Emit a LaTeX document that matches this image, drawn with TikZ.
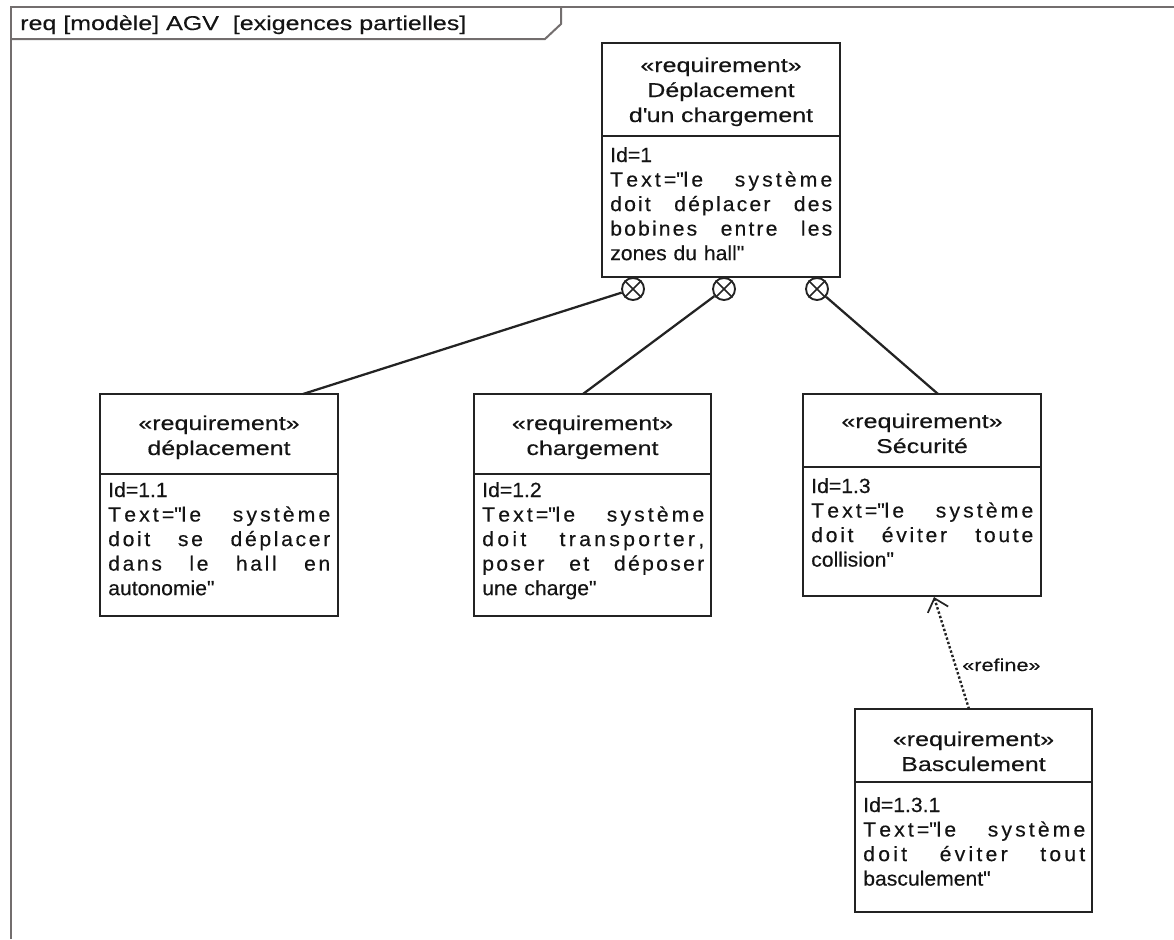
\documentclass[tikz,border=0pt]{standalone}
\usepackage{fontspec}
\setmainfont[FakeStretch=1.25,FakeBold=0.3]{Liberation Sans}
\newfontfamily\bodyfont[FakeStretch=1.03,FakeBold=0.3]{Liberation Sans}
\usetikzlibrary{fit,arrows.meta}
\definecolor{linec}{RGB}{35,35,35}
\definecolor{txtc}{RGB}{20,20,20}
\definecolor{framec}{RGB}{115,110,110}
\XeTeXinterchartoks 0 0 = {\hskip 0pt plus 0.12pt}
\newcommand\jline[1]{\leavevmode\hbox to 166.5pt{\XeTeXinterchartokenstate=1 #1}}
\newcommand\qq{\textquotedbl}
\newcommand\hs{\hskip 4.2pt plus 1pt}
\tikzset{
  reqbox/.style={draw=linec, line width=1.6pt, inner sep=0pt},
  divline/.style={draw=linec, line width=1.6pt},
  hdr/.style={anchor=base, text width=166.5pt, align=center, inner sep=0pt,
    font=\fontsize{15}{18.75}\selectfont, text=txtc},
  body/.style={anchor=base west, text width=166.5pt, align=left, inner sep=0pt,
    font=\bodyfont\fontsize{15.4}{18.4}\selectfont, text=txtc},
  conn/.style={draw=linec, line width=1.7pt},
  crossc/.style={circle, draw=linec, line width=1.4pt, minimum size=16.5pt, inner sep=0pt},
  crossl/.style={draw=linec, line width=1.1pt},
  refinearr/.style={draw=linec, line width=1.8pt, dash pattern=on 1.8pt off 1.6pt,
    -{Straight Barb[length=9pt,width=16pt,line width=1.3pt]}},
  framel/.style={draw=framec, line width=1.5pt},
}
\begin{document}
\begin{tikzpicture}[x=0.75pt, y=-0.75pt]
\useasboundingbox (0,0) rectangle (1174,939);
% frame
\draw[framel] (11,939) -- (11,7) -- (1174,7);
\draw[framel] (11,39) -- (545,39) -- (561,24) -- (561,7);
\node[anchor=base west, inner sep=0pt, font=\fontsize{15}{18}\selectfont, text=txtc] (title) at (20,30)
  {req [modèle] AGV\ \ [exigences partielles]};

% top requirement
\node[reqbox, fit={(602,43) (840,277)}] (top) {};
\draw[divline] (602,136) -- (840,136);
\node[hdr] (toph) at (721,72) {«requirement»\\Déplacement\\d\textquotesingle un chargement};
\node[body] (topb) at (610,162) {Id=1\\\jline{Text=\qq le\hs système}\\\jline{doit\hs déplacer\hs des}\\\jline{bobines\hs entre\hs les}\\zones du hall\qq};

% déplacement
\node[reqbox, fit={(100,394) (338,616)}] (dep) {};
\draw[divline] (100,474) -- (338,474);
\node[hdr] (deph) at (219,430) {«requirement»\\déplacement};
\node[body] (depb) at (108,497) {Id=1.1\\\jline{Text=\qq le\hs système}\\\jline{doit\hs se\hs déplacer}\\\jline{dans\hs le\hs hall\hs en}\\autonomie\qq};

% chargement
\node[reqbox, fit={(474,394) (711,616)}] (charg) {};
\draw[divline] (474,474) -- (711,474);
\node[hdr] (chargh) at (592.5,430) {«requirement»\\chargement};
\node[body] (chargb) at (482,497) {Id=1.2\\\jline{Text=\qq le\hs système}\\\jline{doit\hs transporter,}\\\jline{poser\hs et\hs déposer}\\une charge\qq};

% sécurité
\node[reqbox, fit={(803,394) (1041,596)}] (secu) {};
\draw[divline] (803,467) -- (1041,467);
\node[hdr] (secuh) at (922,428) {«requirement»\\Sécurité};
\node[body] (secub) at (811,493) {Id=1.3\\\jline{Text=\qq le\hs système}\\\jline{doit\hs éviter\hs toute}\\collision\qq};

% basculement
\node[reqbox, fit={(855,709) (1092,912)}] (basc) {};
\draw[divline] (855,782) -- (1092,782);
\node[hdr] (basch) at (973.5,746) {«requirement»\\Basculement};
\node[body] (bascb) at (863,812) {Id=1.3.1\\\jline{Text=\qq le\hs système}\\\jline{doit\hs éviter\hs tout}\\basculement\qq};

% containment circles
\node[crossc] (c1) at (633,289) {};
\node[crossc] (c2) at (724,289) {};
\node[crossc] (c3) at (817,289) {};
\foreach \c in {c1,c2,c3}{
  \draw[crossl] (\c.45) -- (\c.225);
  \draw[crossl] (\c.135) -- (\c.315);
}
\coordinate (e1) at (303,394);
\coordinate (e2) at (583,394);
\coordinate (e3) at (938,394);
\draw[conn] (c1) -- (e1);
\draw[conn] (c2) -- (e2);
\draw[conn] (c3) -- (e3);

% refine
\coordinate (r1) at (969,709);
\coordinate (r2) at (934,597);
\draw[refinearr] (r1) -- (r2);
\node[anchor=base west, inner sep=0pt, font=\fontsize{13}{15}\selectfont, text=txtc] (reflab) at (962,671) {«refine»};
\end{tikzpicture}
\end{document}
